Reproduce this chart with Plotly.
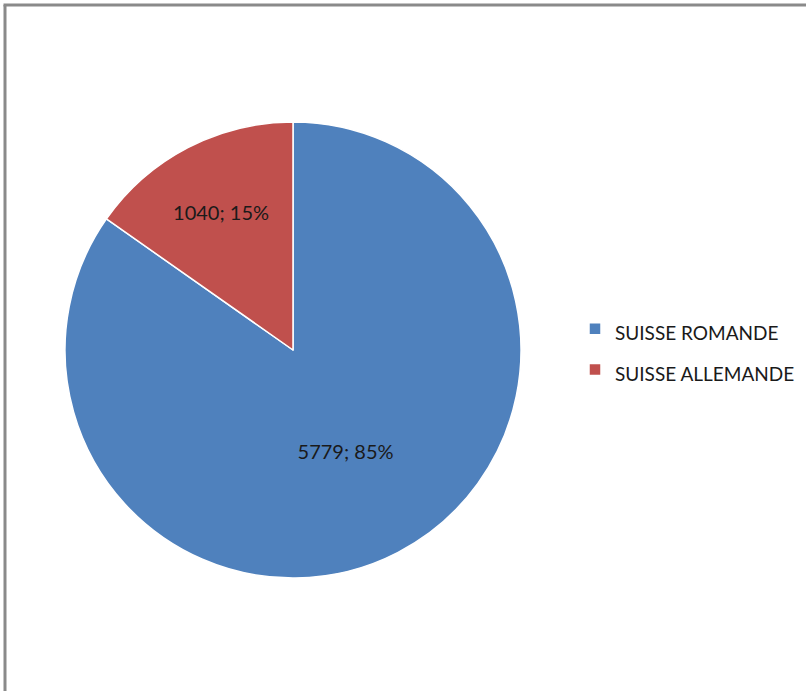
import plotly.graph_objects as go

labels = ["SUISSE ROMANDE", "SUISSE ALLEMANDE"]
values = [5779, 1040]
colors = ["#4F81BD", "#C0504D"]

W, H = 806, 691

fig = go.Figure(go.Pie(
    labels=[f"<span style='font-size:19px'>{l}</span>" for l in labels],
    hovertext=labels,
    values=values,
    marker=dict(colors=colors, line=dict(color="white", width=1.5)),
    sort=False,
    direction="clockwise",
    rotation=0,
    texttemplate="%{value}; %{percent:.0%}",
    textposition="inside",
    insidetextorientation="horizontal",
    textfont=dict(family="Lato", size=20, color="#1a1a1a"),
    domain=dict(x=[65 / W, 521 / W], y=[113 / H, 569 / H]),
    showlegend=True,
))

fig.update_layout(
    width=W, height=H,
    margin=dict(l=0, r=0, t=0, b=0),
    paper_bgcolor="white",
    plot_bgcolor="white",
    legend=dict(
        x=575 / W, y=(H - 349.5) / H, xanchor="left", yanchor="middle",
        font=dict(family="Lato", size=29, color="#1a1a1a"),
        bgcolor="rgba(0,0,0,0)",
    ),
    shapes=[
        dict(type="line", xref="paper", yref="paper",
             x0=5 / W, x1=5 / W, y0=0, y1=(H - 5) / H,
             line=dict(color="#8a8a8a", width=3)),
        dict(type="line", xref="paper", yref="paper",
             x0=3.5 / W, x1=1, y0=(H - 5) / H, y1=(H - 5) / H,
             line=dict(color="#8a8a8a", width=3)),
    ],
)

fig.write_html(
    "out.html",
    config={"displayModeBar": False},
    post_script="document.body.style.margin='0';document.body.style.padding='0';",
)
